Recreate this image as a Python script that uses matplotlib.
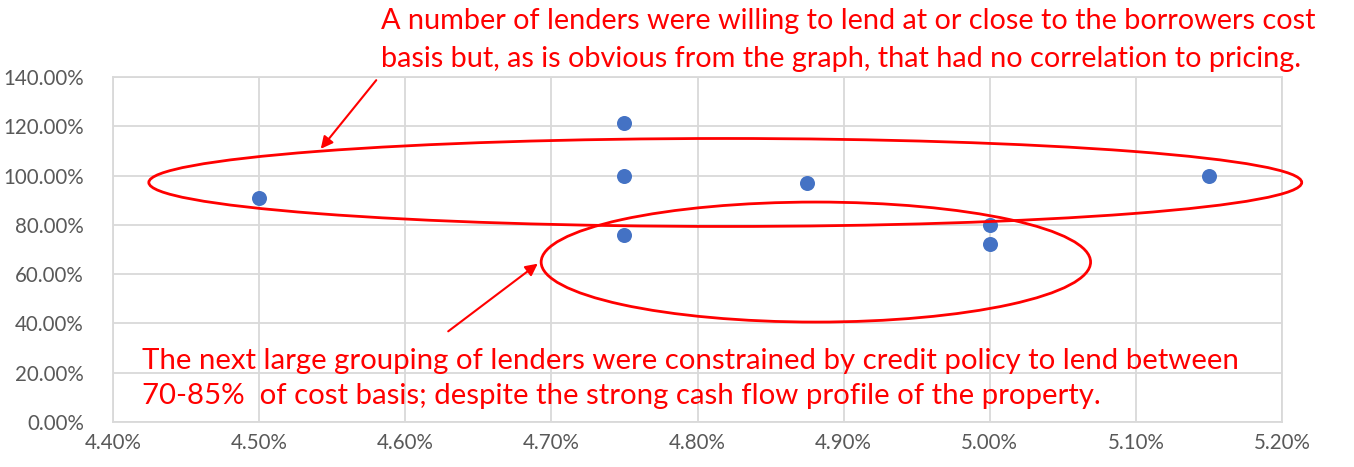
import matplotlib
matplotlib.use("Agg")
from matplotlib import pyplot as plt
from matplotlib.patches import Ellipse
from matplotlib.ticker import FuncFormatter, MultipleLocator

# interest rate (%) vs loan amount as share of cost basis (%)
rates = [4.50, 4.75, 4.75, 4.75, 4.875, 5.00, 5.00, 5.15]
ltc = [90.9, 121.2, 99.8, 75.9, 96.9, 79.9, 72.1, 100.0]

note_top = ("A number of lenders were willing to lend at or close to the borrowers cost\n"
            "basis but, as is obvious from the graph, that had no correlation to pricing.")
note_bottom = ("The next large grouping of lenders were constrained by credit policy to lend between\n"
               "70-85%  of cost basis; despite the strong cash flow profile of the property.")

plt.rcParams['font.family'] = ['Lato', 'DejaVu Sans']
RED = "#ff0000"
GRID = "#d9d9d9"

fig = plt.figure(figsize=(13.54, 4.67), dpi=100)
ax = fig.add_axes([113/1354, 1 - 422/467, (1282-113)/1354, (422-77)/467])

ax.scatter(rates, ltc, s=117, color="#4472c4", zorder=3, linewidths=0)

ax.set_xlim(4.40, 5.20)
ax.set_ylim(0, 140)
ax.xaxis.set_major_locator(MultipleLocator(0.1))
ax.yaxis.set_major_locator(MultipleLocator(20))
ax.xaxis.set_major_formatter(FuncFormatter(lambda v, p: "%.2f%%" % v))
ax.yaxis.set_major_formatter(FuncFormatter(lambda v, p: "%.2f%%" % v))
ax.grid(True, color=GRID, linewidth=1.3)
ax.set_axisbelow(True)
for s in ax.spines.values():
  s.set_color(GRID)
  s.set_linewidth(1.3)
ax.tick_params(length=0, labelsize=14.8, labelcolor="#595959")
ax.tick_params(axis="y", pad=21)
ax.tick_params(axis="x", pad=8)

# ellipses around the groupings
big = Ellipse((4.819, 97.2), 0.789, 35.7, fill=False,
              edgecolor=RED, linewidth=2, clip_on=False, zorder=4)
small = Ellipse((4.881, 64.9), 0.376, 48.7, fill=False,
                edgecolor=RED, linewidth=2, clip_on=False, zorder=4)
ax.add_patch(big)
ax.add_patch(small)

# arrows
ax.annotate("", xy=(319, 467-151), xytext=(378, 467-78), xycoords="figure pixels",
            textcoords="figure pixels",
            arrowprops=dict(arrowstyle="-|>", color=RED, lw=1.5, mutation_scale=18))
ax.annotate("", xy=(540, 467-262), xytext=(446, 467-333), xycoords="figure pixels",
            textcoords="figure pixels",
            arrowprops=dict(arrowstyle="-|>", color=RED, lw=1.5, mutation_scale=18))

fig.text(381/1354, 1 - 8/467, note_top, color=RED, fontsize=20.8, va="top", ha="left",
         linespacing=1.55)
fig.text(142/1354, 1 - 348/467, note_bottom, color=RED, fontsize=21.2, va="top", ha="left",
         linespacing=1.45)

fig.savefig("out.png", dpi=100)
